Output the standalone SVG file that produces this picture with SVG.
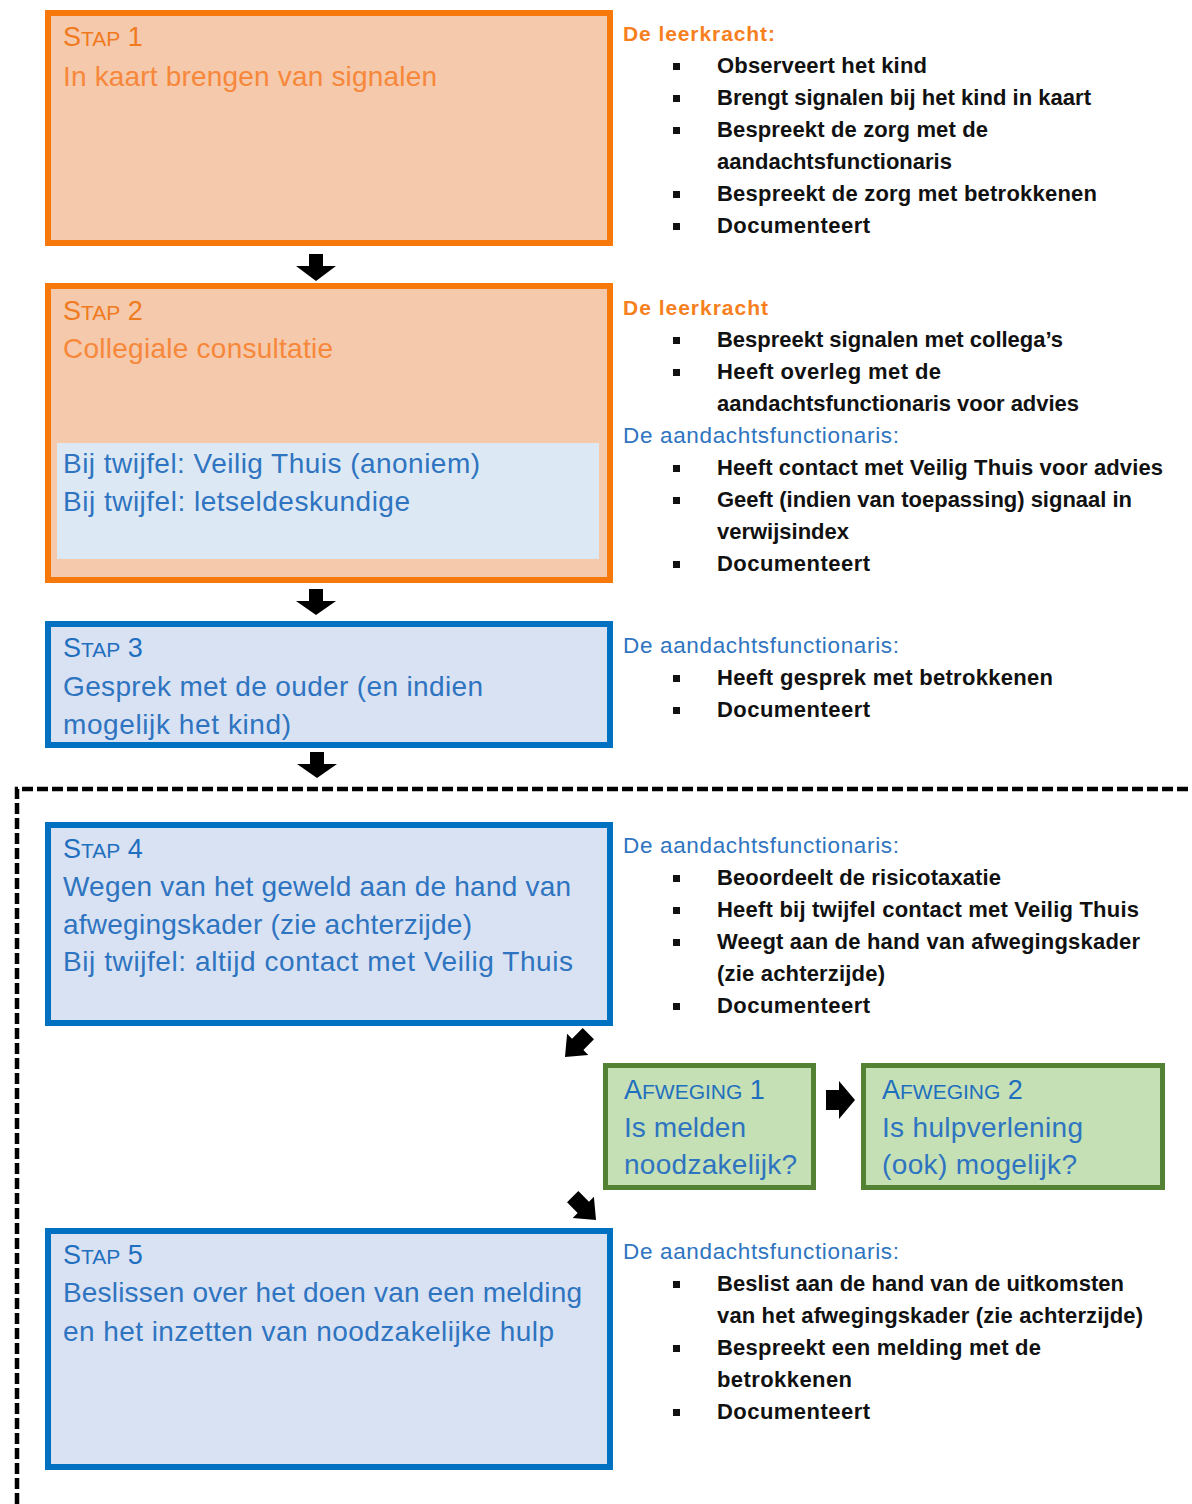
<svg xmlns="http://www.w3.org/2000/svg" width="1192" height="1504" viewBox="0 0 1192 1504">
<style>
text{font-family:"Liberation Sans",Arial,sans-serif}
.or{fill:#F5C9AB;stroke:#F7790C;stroke-width:6}
.bl{fill:#D9E2F3;stroke:#0070C0;stroke-width:6}
.gr{fill:#C5E0B4;stroke:#548235;stroke-width:5}
.ho{fill:#F07A1E;font-size:27px}
.hb{fill:#1F6FBF;font-size:27px}
.sc{font-size:21px}
.to{fill:#F7873A;font-size:28px}
.tb{fill:#2E74C0;font-size:28px}
.nh-o{fill:#F7801E;font-size:21px;font-weight:bold}
.nh-b{fill:#2E74C0;font-size:22.5px}
.nt{fill:#111;font-size:22px;font-weight:bold}
.bu{fill:#111}
.arr{fill:#000}
</style>

<g id="dashed-frame">
<path d="M17,1504 V789 H1192" fill="none" stroke="#000" stroke-width="4.5" stroke-dasharray="11 4"/>
</g>

<g id="connectors">
<path class="arr" d="M309,254 H323 V266 H336 L316,281 L296,266 H309 Z"/>
<path class="arr" d="M309,589 H323 V601 H336 L316,615 L296,601 H309 Z"/>
<path class="arr" d="M310,752 H324 V764 H337 L317,778 L297,764 H310 Z"/>
<path class="arr" d="M-16,-8 H-1 V-15 L17,0 L-1,15 V8 H-16 Z" transform="translate(577,1045) rotate(135)"/>
<path class="arr" d="M826,1090 H839 V1081 L855,1100 L839,1119 V1110 H826 Z"/>
<path class="arr" d="M-16,-8 H-1 V-15 L17,0 L-1,15 V8 H-16 Z" transform="translate(584,1208) rotate(45)"/>
</g>

<g id="stap1">
<rect class="or" x="48" y="13" width="562" height="230"/>
<text class="ho" x="63" y="46">S<tspan class="sc">TAP</tspan> 1</text>
<text class="to" x="63" y="86" textLength="374">In kaart brengen van signalen</text>
</g>

<g id="stap2">
<rect class="or" x="48" y="286" width="562" height="294"/>
<rect x="57" y="443" width="542" height="116" fill="#DDE8F5"/>
<text class="ho" x="63" y="320">S<tspan class="sc">TAP</tspan> 2</text>
<text class="to" x="63" y="358" textLength="270">Collegiale consultatie</text>
<text class="tb" x="63" y="473" textLength="417">Bij twijfel: Veilig Thuis (anoniem)</text>
<text class="tb" x="63" y="511" textLength="347">Bij twijfel: letseldeskundige</text>
</g>

<g id="stap3">
<rect class="bl" x="48" y="624" width="562" height="121"/>
<text class="hb" x="63" y="657">S<tspan class="sc">TAP</tspan> 3</text>
<text class="tb" x="63" y="696" textLength="420">Gesprek met de ouder (en indien</text>
<text class="tb" x="63" y="734" textLength="228">mogelijk het kind)</text>
</g>

<g id="stap4">
<rect class="bl" x="48" y="825" width="562" height="198"/>
<text class="hb" x="63" y="858">S<tspan class="sc">TAP</tspan> 4</text>
<text class="tb" x="63" y="896" textLength="508">Wegen van het geweld aan de hand van</text>
<text class="tb" x="63" y="934" textLength="409">afwegingskader (zie achterzijde)</text>
<text class="tb" x="63" y="971" textLength="510">Bij twijfel: altijd contact met Veilig Thuis</text>
</g>

<g id="afweging1">
<rect class="gr" x="605.5" y="1065.5" width="208" height="122"/>
<text class="hb" x="624" y="1099">A<tspan class="sc">FWEGING</tspan> 1</text>
<text class="tb" x="624" y="1137" textLength="122">Is melden</text>
<text class="tb" x="624" y="1174" textLength="173">noodzakelijk?</text>
</g>

<g id="afweging2">
<rect class="gr" x="863.5" y="1065.5" width="299" height="122"/>
<text class="hb" x="882" y="1099">A<tspan class="sc">FWEGING</tspan> 2</text>
<text class="tb" x="882" y="1137" textLength="201">Is hulpverlening</text>
<text class="tb" x="882" y="1174" textLength="195">(ook) mogelijk?</text>
</g>

<g id="stap5">
<rect class="bl" x="48" y="1231" width="562" height="236"/>
<text class="hb" x="63" y="1264">S<tspan class="sc">TAP</tspan> 5</text>
<text class="tb" x="63" y="1302" textLength="519">Beslissen over het doen van een melding</text>
<text class="tb" x="63" y="1341" textLength="491">en het inzetten van noodzakelijke hulp</text>
</g>

<g id="notes-stap1">
<text class="nh-o" x="623" y="41" textLength="152">De leerkracht:</text>
<rect class="bu" x="673" y="63" width="7" height="7"/>
<text class="nt" x="717" y="73" textLength="210">Observeert het kind</text>
<rect class="bu" x="673" y="95" width="7" height="7"/>
<text class="nt" x="717" y="105" textLength="374">Brengt signalen bij het kind in kaart</text>
<rect class="bu" x="673" y="127" width="7" height="7"/>
<text class="nt" x="717" y="137" textLength="271">Bespreekt de zorg met de</text>
<text class="nt" x="717" y="169" textLength="235">aandachtsfunctionaris</text>
<rect class="bu" x="673" y="191" width="7" height="7"/>
<text class="nt" x="717" y="201" textLength="380">Bespreekt de zorg met betrokkenen</text>
<rect class="bu" x="673" y="223" width="7" height="7"/>
<text class="nt" x="717" y="233" textLength="153">Documenteert</text>
</g>

<g id="notes-stap2">
<text class="nh-o" x="623" y="315" textLength="145">De leerkracht</text>
<rect class="bu" x="673" y="337" width="7" height="7"/>
<text class="nt" x="717" y="347" textLength="346">Bespreekt signalen met collega’s</text>
<rect class="bu" x="673" y="369" width="7" height="7"/>
<text class="nt" x="717" y="379" textLength="224">Heeft overleg met de</text>
<text class="nt" x="717" y="411" textLength="362">aandachtsfunctionaris voor advies</text>
<text class="nh-b" x="623" y="443" textLength="276">De aandachtsfunctionaris:</text>
<rect class="bu" x="673" y="465" width="7" height="7"/>
<text class="nt" x="717" y="475" textLength="446">Heeft contact met Veilig Thuis voor advies</text>
<rect class="bu" x="673" y="497" width="7" height="7"/>
<text class="nt" x="717" y="507" textLength="415">Geeft (indien van toepassing) signaal in</text>
<text class="nt" x="717" y="539" textLength="132">verwijsindex</text>
<rect class="bu" x="673" y="561" width="7" height="7"/>
<text class="nt" x="717" y="571" textLength="153">Documenteert</text>
</g>

<g id="notes-stap3">
<text class="nh-b" x="623" y="653" textLength="276">De aandachtsfunctionaris:</text>
<rect class="bu" x="673" y="675" width="7" height="7"/>
<text class="nt" x="717" y="685" textLength="336">Heeft gesprek met betrokkenen</text>
<rect class="bu" x="673" y="707" width="7" height="7"/>
<text class="nt" x="717" y="717" textLength="153">Documenteert</text>
</g>

<g id="notes-stap4">
<text class="nh-b" x="623" y="853" textLength="276">De aandachtsfunctionaris:</text>
<rect class="bu" x="673" y="875" width="7" height="7"/>
<text class="nt" x="717" y="885" textLength="284">Beoordeelt de risicotaxatie</text>
<rect class="bu" x="673" y="907" width="7" height="7"/>
<text class="nt" x="717" y="917" textLength="422">Heeft bij twijfel contact met Veilig Thuis</text>
<rect class="bu" x="673" y="939" width="7" height="7"/>
<text class="nt" x="717" y="949" textLength="423">Weegt aan de hand van afwegingskader</text>
<text class="nt" x="717" y="981" textLength="168">(zie achterzijde)</text>
<rect class="bu" x="673" y="1003" width="7" height="7"/>
<text class="nt" x="717" y="1013" textLength="153">Documenteert</text>
</g>

<g id="notes-stap5">
<text class="nh-b" x="623" y="1259" textLength="276">De aandachtsfunctionaris:</text>
<rect class="bu" x="673" y="1281" width="7" height="7"/>
<text class="nt" x="717" y="1291" textLength="407">Beslist aan de hand van de uitkomsten</text>
<text class="nt" x="717" y="1323" textLength="426">van het afwegingskader (zie achterzijde)</text>
<rect class="bu" x="673" y="1345" width="7" height="7"/>
<text class="nt" x="717" y="1355" textLength="324">Bespreekt een melding met de</text>
<text class="nt" x="717" y="1387" textLength="135">betrokkenen</text>
<rect class="bu" x="673" y="1409" width="7" height="7"/>
<text class="nt" x="717" y="1419" textLength="153">Documenteert</text>
</g>
</svg>
